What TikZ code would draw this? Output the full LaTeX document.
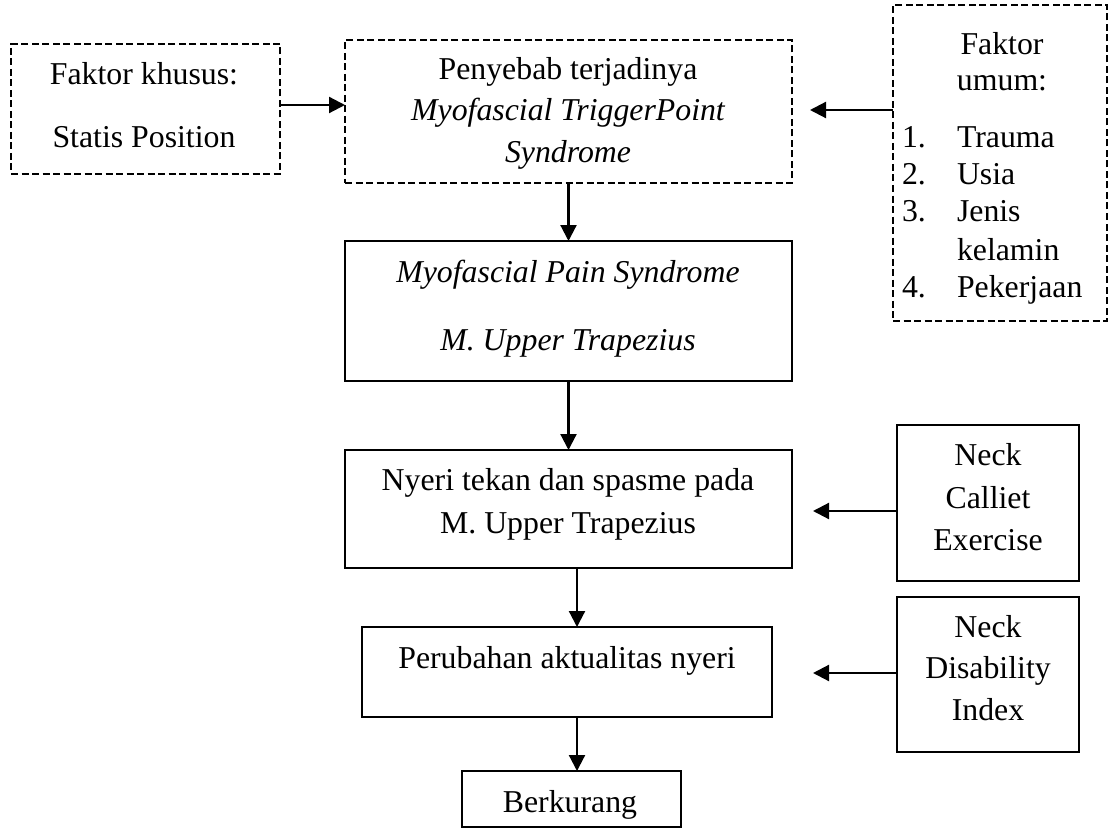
\documentclass[tikz,border=0pt]{standalone}
\usepackage{fontspec}
\setmainfont{Liberation Serif}
\usetikzlibrary{arrows.meta}
\begin{document}
\begin{tikzpicture}[x=1pt,y=-1pt,
  every node/.style={inner sep=0pt,outer sep=0pt},
  txt/.style={font=\fontsize{31.8pt}{38pt}\selectfont, anchor=base},
  txtl/.style={font=\fontsize{31.8pt}{38pt}\selectfont, anchor=base west},
  sbox/.style={draw, line width=2.2pt, rectangle},
  dbox/.style={draw, line width=2.2pt, rectangle, dash pattern=on 7pt off 3.5pt},
  arr/.style={line width=2.2pt, -{Triangle[length=16pt,width=16pt]}}]
\useasboundingbox (0,0) rectangle (1113,829);
% boxes
\node[dbox, minimum width=269pt, minimum height=130pt] (L) at (145.5,109) {};
\node[dbox, minimum width=447pt, minimum height=143pt] (C) at (568.5,111.5) {};
\node[dbox, minimum width=214pt, minimum height=316pt] (R) at (1000,163) {};
\node[sbox, minimum width=447pt, minimum height=140pt] (M) at (568.5,311) {};
\node[sbox, minimum width=447pt, minimum height=118pt] (N) at (568.5,509) {};
\node[sbox, minimum width=410pt, minimum height=90pt] (P) at (567,672) {};
\node[sbox, minimum width=219pt, minimum height=56pt] (B) at (571.5,799) {};
\node[sbox, minimum width=182pt, minimum height=156pt] (K) at (988,503) {};
\node[sbox, minimum width=182pt, minimum height=155pt] (D) at (988,674.5) {};
% texts
\node[txt] (L1) at (144,85) {Faktor khusus:};
\node[txt] (L2) at (144,148) {Statis Position};
\node[txt] (C1) at (568,80) {Penyebab terjadinya};
\node[txt] (C2) at (568,121) {\itshape Myofascial TriggerPoint};
\node[txt] (C3) at (568,163) {\itshape Syndrome};
\node[txt] (R1) at (1002,55) {Faktor};
\node[txt] (R2) at (1002,91) {umum:};
\node[txtl] (R3n) at (902,148) {1.};
\node[txtl] (R3) at (957,148) {Trauma};
\node[txtl] (R4n) at (902,185) {2.};
\node[txtl] (R4) at (957,185) {Usia};
\node[txtl] (R5n) at (902,222) {3.};
\node[txtl] (R5) at (957,222) {Jenis};
\node[txtl] (R6) at (957,260) {kelamin};
\node[txtl] (R7n) at (902,297) {4.};
\node[txtl] (R7) at (957,297) {Pekerjaan};
\node[txt] (M1) at (568,282) {\itshape Myofascial Pain Syndrome};
\node[txt] (M2) at (568,350) {\itshape M. Upper Trapezius};
\node[txt] (N1) at (568,490) {Nyeri tekan dan spasme pada};
\node[txt] (N2) at (568,533) {M. Upper Trapezius};
\node[txt] (P1) at (567,668) {Perubahan aktualitas nyeri};
\node[txt] (B1) at (570,812) {Berkurang};
\node[txt] (K1) at (988,465) {Neck};
\node[txt] (K2) at (988,508) {Calliet};
\node[txt] (K3) at (988,550) {Exercise};
\node[txt] (D1) at (988,637) {Neck};
\node[txt] (D2) at (988,678) {Disability};
\node[txt] (D3) at (988,720) {Index};
% connectors
\coordinate (rc) at (810,110);
\coordinate (kn) at (813,511);
\coordinate (dp) at (813,673);
\draw[arr] ([yshift=4pt]L.east) -- ([yshift=4pt]L.east -| C.west);
\draw[arr] (R.west |- rc) -- (rc);
\draw[arr] (C.south) -- (M.north);
\draw[arr] (M.south) -- (N.north);
\draw[arr] ([xshift=8.5pt]N.south) -- ([xshift=8.5pt]N.south |- P.north);
\draw[arr] ([xshift=10pt]P.south) -- ([xshift=10pt]P.south |- B.north);
\draw[arr] (K.west |- kn) -- (kn);
\draw[arr] (D.west |- dp) -- (dp);
\end{tikzpicture}
\end{document}
